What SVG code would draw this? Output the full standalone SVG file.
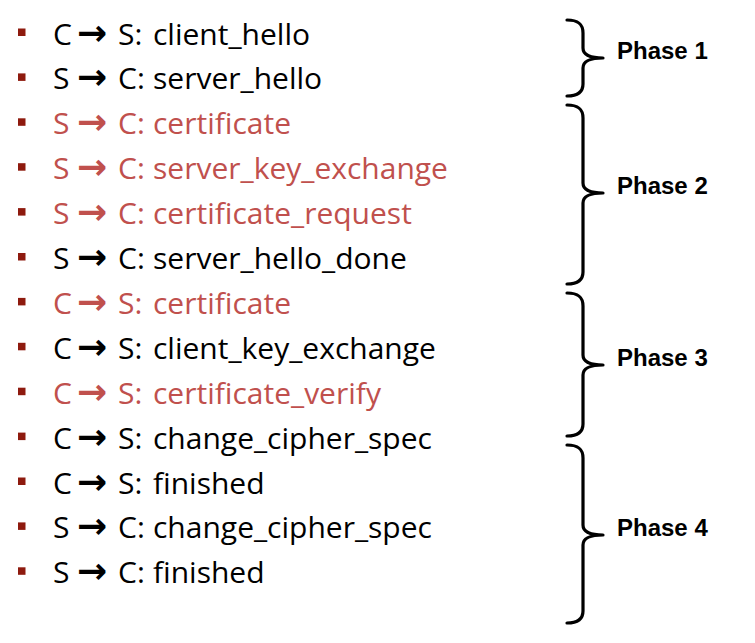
<svg xmlns="http://www.w3.org/2000/svg" width="755" height="643" viewBox="0 0 755 643">
<style>
.item{font-family:"Open Sans","Liberation Sans",sans-serif;font-size:30px;fill:#000}
.red{fill:#C0504D}
.arr{font-family:"DejaVu Sans",sans-serif;font-weight:bold;font-size:36px}
.bul{fill:#8E1A0E}
.brace{fill:none;stroke:#000;stroke-width:3.2;stroke-linecap:round;stroke-linejoin:round}
.ph{font-family:"Liberation Sans",Arial,sans-serif;font-weight:bold;font-size:24px;fill:#000}
</style>
<rect width="755" height="643" fill="#fff"/>
<g id="items">
<g id="m1"><rect class="bul" x="18" y="28.5" width="7.5" height="7.5"/><text class="item" y="44.5"><tspan x="53">C</tspan><tspan class="arr" x="77">→</tspan><tspan x="118">S:</tspan><tspan x="153">client_hello</tspan></text></g>
<g id="m2"><rect class="bul" x="18" y="73.4" width="7.5" height="7.5"/><text class="item" y="89.4"><tspan x="53">S</tspan><tspan class="arr" x="77">→</tspan><tspan x="118">C:</tspan><tspan x="153">server_hello</tspan></text></g>
<g id="m3"><rect class="bul" x="18" y="118.3" width="7.5" height="7.5"/><text class="item red" y="134.3"><tspan x="53">S</tspan><tspan class="arr" x="77">→</tspan><tspan x="118">C:</tspan><tspan x="153">certificate</tspan></text></g>
<g id="m4"><rect class="bul" x="18" y="163.2" width="7.5" height="7.5"/><text class="item red" y="179.2"><tspan x="53">S</tspan><tspan class="arr" x="77">→</tspan><tspan x="118">C:</tspan><tspan x="153">server_key_exchange</tspan></text></g>
<g id="m5"><rect class="bul" x="18" y="208.1" width="7.5" height="7.5"/><text class="item red" y="224.1"><tspan x="53">S</tspan><tspan class="arr" x="77">→</tspan><tspan x="118">C:</tspan><tspan x="153">certificate_request</tspan></text></g>
<g id="m6"><rect class="bul" x="18" y="253" width="7.5" height="7.5"/><text class="item" y="269"><tspan x="53">S</tspan><tspan class="arr" x="77">→</tspan><tspan x="118">C:</tspan><tspan x="153">server_hello_done</tspan></text></g>
<g id="m7"><rect class="bul" x="18" y="297.9" width="7.5" height="7.5"/><text class="item red" y="313.9"><tspan x="53">C</tspan><tspan class="arr" x="77">→</tspan><tspan x="118">S:</tspan><tspan x="153">certificate</tspan></text></g>
<g id="m8"><rect class="bul" x="18" y="342.8" width="7.5" height="7.5"/><text class="item" y="358.8"><tspan x="53">C</tspan><tspan class="arr" x="77">→</tspan><tspan x="118">S:</tspan><tspan x="153">client_key_exchange</tspan></text></g>
<g id="m9"><rect class="bul" x="18" y="387.7" width="7.5" height="7.5"/><text class="item red" y="403.7"><tspan x="53">C</tspan><tspan class="arr" x="77">→</tspan><tspan x="118">S:</tspan><tspan x="153">certificate_verify</tspan></text></g>
<g id="m10"><rect class="bul" x="18" y="432.6" width="7.5" height="7.5"/><text class="item" y="448.6"><tspan x="53">C</tspan><tspan class="arr" x="77">→</tspan><tspan x="118">S:</tspan><tspan x="153">change_cipher_spec</tspan></text></g>
<g id="m11"><rect class="bul" x="18" y="477.5" width="7.5" height="7.5"/><text class="item" y="493.5"><tspan x="53">C</tspan><tspan class="arr" x="77">→</tspan><tspan x="118">S:</tspan><tspan x="153">finished</tspan></text></g>
<g id="m12"><rect class="bul" x="18" y="522.4" width="7.5" height="7.5"/><text class="item" y="538.4"><tspan x="53">S</tspan><tspan class="arr" x="77">→</tspan><tspan x="118">C:</tspan><tspan x="153">change_cipher_spec</tspan></text></g>
<g id="m13"><rect class="bul" x="18" y="567.3" width="7.5" height="7.5"/><text class="item" y="583.3"><tspan x="53">S</tspan><tspan class="arr" x="77">→</tspan><tspan x="118">C:</tspan><tspan x="153">finished</tspan></text></g>
</g>
<g id="phase1"><path class="brace" d="M567,20 C577,20 583,23 583,33 L583,48 C583,55 590,58 603,58 C590,58 583,61 583,68 L583,84 C583,93 577,96 567,96"/><text class="ph" x="617" y="59">Phase 1</text></g>
<g id="phase2"><path class="brace" d="M567,105 C577,105 583,108 583,118 L583,183 C583,190 590,193 603,193 C590,193 583,196 583,203 L583,272 C583,281 577,284 567,284"/><text class="ph" x="617" y="194">Phase 2</text></g>
<g id="phase3"><path class="brace" d="M567,293 C577,293 583,296 583,306 L583,355 C583,362 590,365 603,365 C590,365 583,368 583,375 L583,424 C583,433 577,436 567,436"/><text class="ph" x="617" y="366">Phase 3</text></g>
<g id="phase4"><path class="brace" d="M567,445 C577,445 583,448 583,458 L583,525 C583,532 590,535 603,535 C590,535 583,538 583,545 L583,611 C583,620 577,623 567,623"/><text class="ph" x="617" y="536">Phase 4</text></g>
</svg>
